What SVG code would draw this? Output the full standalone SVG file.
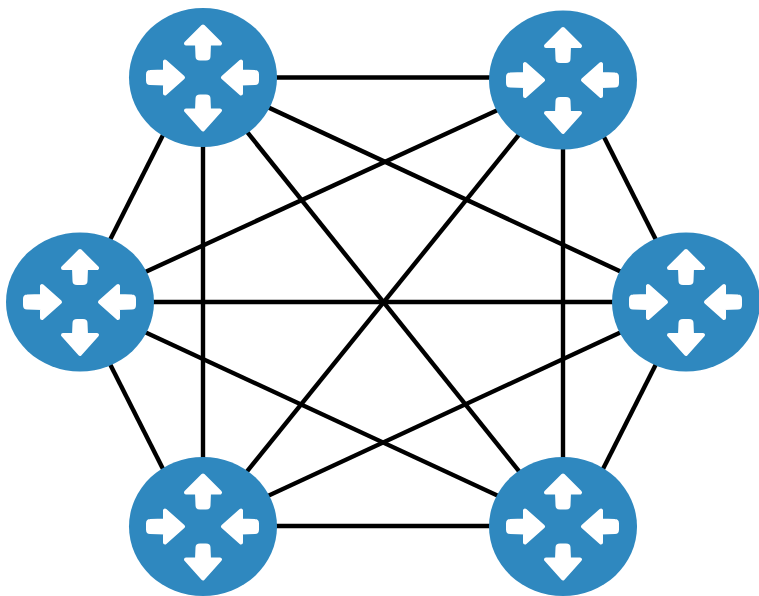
<svg xmlns="http://www.w3.org/2000/svg" width="759" height="596" viewBox="0 0 759 596">
<style>
.c line{stroke:#000;stroke-width:4.4;fill:none}
.b{fill:#2f88bf}
.a{fill:#fff;stroke:#fff;stroke-width:4;stroke-linejoin:round}
</style>
<defs>
<g id="router">
<ellipse class="b" cx="0" cy="0" rx="74" ry="69.5"/>
<path class="a" d="M0-51L17-34H6L5.5-21Q5.5-19 3-19H-3Q-5.5-19-5.5-21L-6-34H-17Z"/>
<path class="a" d="M0 52L17 33H6L5.5 21Q5.5 19 3 19H-3Q-5.5 19-5.5 21L-6 33H-17Z"/>
<path class="a" d="M-20 0L-38-16V-6L-53-5.5Q-55-5.5-55-3V3Q-55 5.5-53 5.5L-38 6V16Z"/>
<path class="a" d="M20 0L38-16V-6L52-5.5Q54-5.5 54-3V3Q54 5.5 52 5.5L38 6V16Z"/>
</g>
</defs>
<rect width="759" height="596" fill="#fff"/>
<g class="c" id="connectors">
<line x1="203" y1="77.5" x2="563" y2="77.5"/>
<line x1="203" y1="526" x2="563" y2="526"/>
<line x1="80" y1="302" x2="686" y2="302"/>
<line x1="203" y1="77" x2="203" y2="526"/>
<line x1="563" y1="80" x2="563" y2="526"/>
<line x1="180.7" y1="100" x2="94.8" y2="270"/>
<line x1="585.3" y1="100" x2="671.2" y2="270"/>
<line x1="180.7" y1="504" x2="94.8" y2="334"/>
<line x1="585.3" y1="504" x2="671.2" y2="334"/>
<line x1="203" y1="77" x2="563" y2="526"/>
<line x1="563" y1="80" x2="203" y2="526"/>
<line x1="203" y1="77" x2="686" y2="302"/>
<line x1="563" y1="80" x2="80" y2="302"/>
<line x1="80" y1="302" x2="563" y2="526"/>
<line x1="686" y1="302" x2="203" y2="526"/>
</g>
<g id="node-top-left"><use href="#router" x="203" y="77.5"/></g>
<g id="node-top-right"><use href="#router" x="563" y="80"/></g>
<g id="node-left"><use href="#router" x="80" y="302"/></g>
<g id="node-right"><use href="#router" x="686" y="302"/></g>
<g id="node-bottom-left"><use href="#router" x="203" y="526.5"/></g>
<g id="node-bottom-right"><use href="#router" x="563" y="526.5"/></g>
</svg>
